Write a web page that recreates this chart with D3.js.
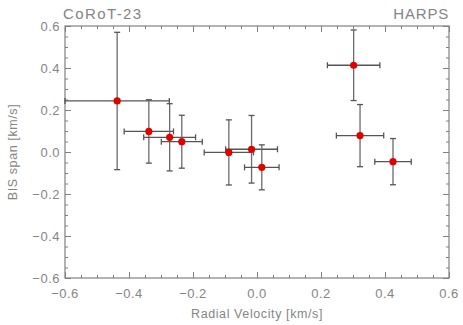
<!DOCTYPE html>
<html><head><meta charset="utf-8">
<script src="https://cdn.jsdelivr.net/npm/d3@7"></script>
<style>body{margin:0;background:#fff}svg{display:block}text{font-family:"Liberation Sans",Arial,sans-serif;fill:#858585}</style>
</head><body><svg id="c" width="463" height="325"></svg>
<script>
const rv    = [-0.437, -0.338, -0.273, -0.235, -0.088, -0.017, 0.015, 0.302, 0.322, 0.425];
const rvErr = [0.163, 0.077, 0.081, 0.064, 0.077, 0.081, 0.054, 0.082, 0.074, 0.057];
const bis   = [0.243, 0.098, 0.070, 0.049, -0.002, 0.013, -0.073, 0.413, 0.078, -0.046];
const bisErr= [0.327, 0.151, 0.160, 0.126, 0.155, 0.161, 0.107, 0.168, 0.148, 0.110];
const majorTicks = [-0.6, -0.4, -0.2, 0.0, 0.2, 0.4, 0.6];
const minorTicks = d3.range(-0.6, 0.6001, 0.05).map(v => +v.toFixed(2));

const svg = d3.select("#c");
const x = d3.scaleLinear().domain([-0.6, 0.6]).range([65, 449]);
const y = d3.scaleLinear().domain([-0.6, 0.6]).range([278, 26]);
const axisCol = "#808080";
const fmt = d3.format(".1f");
const lab = v => fmt(v).replace("-", "\u2212");

// frame
svg.append("rect").attr("x", 65).attr("y", 26).attr("width", 384).attr("height", 252)
  .attr("fill", "none").attr("stroke", axisCol).attr("stroke-width", 1.2);

function addAxis(axisFn, scale, tr, major) {
  const g = svg.append("g").attr("transform", tr)
    .call(axisFn(scale).tickValues(major ? majorTicks : minorTicks)
      .tickSize(major ? -6 : -3).tickFormat(""));
  g.select(".domain").remove();
  g.selectAll("line").attr("stroke", axisCol);
  return g;
}
[true, false].forEach(m => {
  addAxis(d3.axisBottom, x, "translate(0,278)", m);
  addAxis(d3.axisTop, x, "translate(0,26)", m);
  addAxis(d3.axisLeft, y, "translate(65,0)", m);
  addAxis(d3.axisRight, y, "translate(449,0)", m);
});

// tick labels
svg.append("g").selectAll("text").data(majorTicks).join("text")
  .attr("x", d => x(d)).attr("y", 298).attr("text-anchor", "middle")
  .attr("font-size", 13).attr("letter-spacing", 0.5).text(lab);
svg.append("g").selectAll("text").data(majorTicks).join("text")
  .attr("x", 60).attr("y", d => y(d) + 5).attr("text-anchor", "end")
  .attr("font-size", 13).attr("letter-spacing", 0.5).text(lab);

// labels
svg.append("text").attr("x", 257).attr("y", 318).attr("text-anchor", "middle")
  .attr("font-size", 12.5).attr("letter-spacing", 0.6).text("Radial Velocity [km/s]");
svg.append("text").attr("transform", "translate(17,152) rotate(-90)").attr("text-anchor", "middle")
  .attr("font-size", 12.5).attr("letter-spacing", 0.6).text("BIS span [km/s]");
svg.append("text").attr("x", 63).attr("y", 19).attr("font-size", 15).attr("letter-spacing", 1.4).text("CoRoT-23");
svg.append("text").attr("x", 449).attr("y", 19).attr("text-anchor", "end").attr("font-size", 15).attr("letter-spacing", 0.8).text("HARPS");

// error bars
const pts = rv.map((v, i) => ({x: v, xe: rvErr[i], y: bis[i], ye: bisErr[i]}));
const eb = svg.append("g").attr("stroke", "#555").attr("stroke-width", 1.3);
const cap = 3;
pts.forEach(p => {
  const cx = x(p.x), cy = y(p.y);
  const x0 = x(p.x - p.xe), x1 = x(p.x + p.xe), y0 = y(p.y - p.ye), y1 = y(p.y + p.ye);
  eb.append("line").attr("x1", cx).attr("x2", cx).attr("y1", y0).attr("y2", y1).attr("stroke", "#6a6a6a");
  eb.append("line").attr("x1", cx - cap).attr("x2", cx + cap).attr("y1", y0).attr("y2", y0);
  eb.append("line").attr("x1", cx - cap).attr("x2", cx + cap).attr("y1", y1).attr("y2", y1);
  eb.append("line").attr("x1", x0).attr("x2", x1).attr("y1", cy).attr("y2", cy);
  eb.append("line").attr("x1", x0).attr("x2", x0).attr("y1", cy - cap).attr("y2", cy + cap);
  eb.append("line").attr("x1", x1).attr("x2", x1).attr("y1", cy - cap).attr("y2", cy + cap);
});
svg.append("g").selectAll("circle").data(pts).join("circle")
  .attr("cx", d => x(d.x)).attr("cy", d => y(d.y)).attr("r", 3.6).attr("fill", "#e00000");
</script></body></html>
